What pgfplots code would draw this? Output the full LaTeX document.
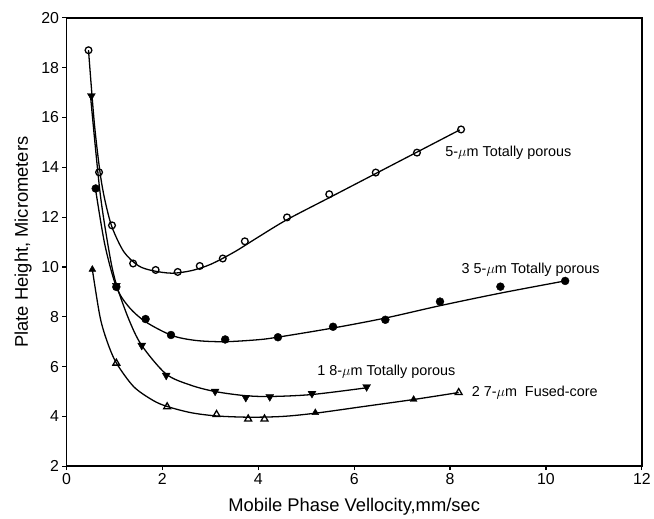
\documentclass[border=0pt]{standalone}
\usepackage{fontspec}
\setmainfont{Liberation Sans}
\usepackage{pgfplots}
\pgfplotsset{compat=1.18}

\begin{document}
\begin{tikzpicture}
\begin{axis}[
  width=580pt, height=452pt, scale only axis=true,
  xmin=0, xmax=12, ymin=2, ymax=20,
  xtick={0,2,...,12}, ytick={2,4,...,20},
  tick align=outside, tick pos=left, major tick length=4pt,
  axis line style={line width=1.6pt},
  every tick/.style={line width=1.2pt, black},
  /pgf/number format/assume math mode=true,
  tick label style={font=\fontsize{16}{19}\selectfont},
  xlabel={Mobile Phase Vellocity,mm/sec},
  ylabel={Plate Height, Micrometers},
  label style={font=\fontsize{18.5}{21}\selectfont, inner sep=0pt},
  xlabel style={at={(axis description cs:0.5,-0.071)}, anchor=north},
  ylabel style={at={(axis description cs:-0.060,0.5)}, anchor=south},
  clip=false,
]
% fitted curves
\addplot[black, line width=1.3pt, smooth] coordinates {
  (0.46,18.7) (0.58,15.8) (0.7,13.8) (0.8,12.7) (0.95,11.6) (1.2,10.6) (1.5,10.05)
  (1.8,9.85) (2.2,9.75) (2.6,9.85) (3.0,10.1) (3.5,10.6) (4.0,11.2) (4.6,11.9)
  (5.5,12.8) (6.5,13.8) (7.3,14.6) (8.2,15.5)};
\addplot[black, line width=1.3pt, smooth] coordinates {
  (0.6,13.2) (0.8,10.9) (1.04,9.2) (1.3,8.4) (1.65,7.8) (2.2,7.25) (2.7,7.05)
  (3.3,7.0) (4.0,7.08) (4.4,7.18) (5.56,7.55) (6.65,7.95) (7.8,8.45) (9.05,8.95) (10.4,9.44)};
\addplot[black, line width=1.3pt, smooth] coordinates {
  (0.5,16.9) (0.7,13.0) (0.9,10.5) (1.04,9.3) (1.3,7.9) (1.57,6.85) (2.08,5.7)
  (2.6,5.25) (3.1,5.0) (3.7,4.84) (4.24,4.8) (5.12,4.88) (6.26,5.15)};
\addplot[black, line width=1.3pt, smooth] coordinates {
  (0.54,9.9) (0.7,8.0) (0.85,7.0) (1.04,6.15) (1.4,5.2) (1.8,4.65) (2.1,4.4)
  (2.6,4.15) (3.13,4.02) (3.8,3.97) (4.5,4.0) (5.19,4.13) (6.2,4.4) (7.24,4.68) (8.18,4.96)};

% 5-um totally porous
\addplot[only marks, mark=o, mark size=3.4pt, mark options={line width=1.3pt, fill=white}] coordinates {
  (0.46,18.7) (0.68,13.8) (0.95,11.67) (1.39,10.14) (1.86,9.88) (2.32,9.80) (2.78,10.04)
  (3.26,10.34) (3.72,11.03) (4.60,11.99) (5.48,12.92) (6.45,13.79) (7.31,14.59) (8.23,15.52)};
% 3.5-um totally porous
\addplot[only marks, mark=*, mark size=4pt] coordinates {
  (0.61,13.15) (1.04,9.2) (1.65,7.91) (2.18,7.27) (3.31,7.09) (4.41,7.18)
  (5.56,7.6) (6.65,7.88) (7.79,8.61) (9.05,9.21) (10.4,9.44)};
% 1.8-um totally porous
\addplot[only marks, mark=triangle*, mark size=4.6pt, mark options={rotate=180}] coordinates {
  (0.52,16.87) (1.04,9.25) (1.57,6.85) (2.08,5.65) (3.10,5.01) (3.74,4.76)
  (4.24,4.79) (5.12,4.92) (6.26,5.19)};
% 2.7-um fused-core
\addplot[only marks, mark=triangle, mark size=4pt, mark options={line width=1.3pt, fill=white}] coordinates {
  (1.04,6.14) (2.10,4.39) (3.13,4.08) (3.79,3.90) (4.13,3.90) (8.18,4.96)};
\addplot[only marks, mark=triangle*, mark size=4pt] coordinates {
  (0.54,9.9) (5.19,4.15) (7.24,4.68)};

\node[anchor=west, font=\fontsize{14.5}{17}\selectfont] at (axis cs:7.83,14.59) {5-$\mu$m Totally porous};
\node[anchor=west, font=\fontsize{14.5}{17}\selectfont] at (axis cs:8.17,9.9) {3 5-$\mu$m Totally porous};
\node[anchor=west, font=\fontsize{14.5}{17}\selectfont] at (axis cs:5.16,5.78) {1 8-$\mu$m Totally porous};
\node[anchor=west, font=\fontsize{14.5}{17}\selectfont] at (axis cs:8.38,4.96) {2 7-$\mu$m\ \ Fused-core};

% page frame with the reference's margins
\path (axis description cs:-0.1155,-0.1173) rectangle (axis description cs:1.0121,1.0398);
\end{axis}
\end{tikzpicture}
\end{document}
